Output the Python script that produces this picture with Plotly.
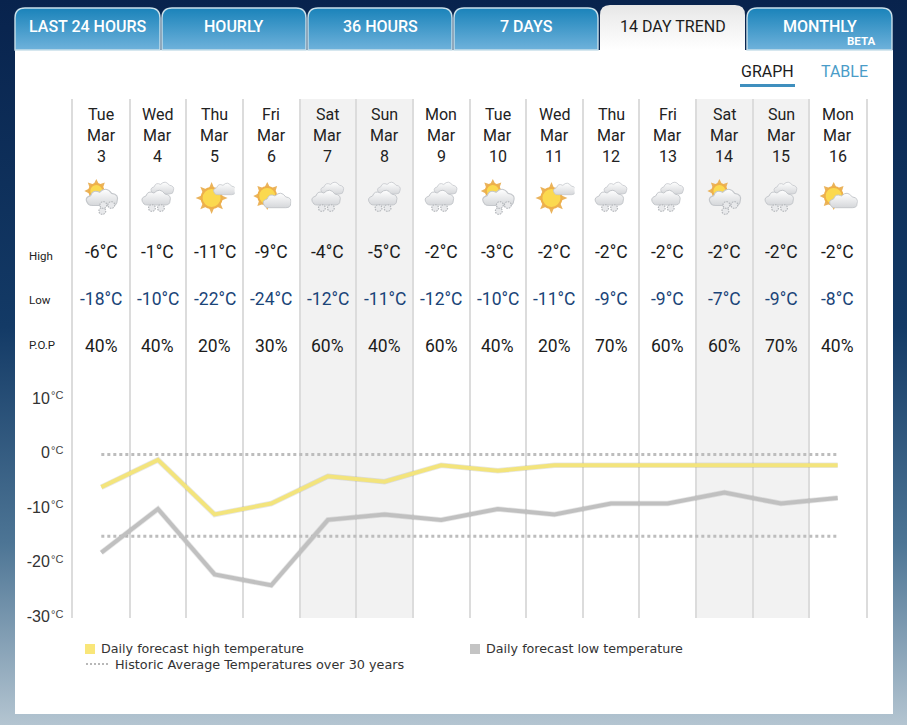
import base64
import plotly.graph_objects as go

W, H = 907, 725

days = ['Tue', 'Wed', 'Thu', 'Fri', 'Sat', 'Sun', 'Mon', 'Tue', 'Wed', 'Thu', 'Fri', 'Sat', 'Sun', 'Mon']
dates = [3, 4, 5, 6, 7, 8, 9, 10, 11, 12, 13, 14, 15, 16]
high = [-6, -1, -11, -9, -4, -5, -2, -3, -2, -2, -2, -2, -2, -2]
low = [-18, -10, -22, -24, -12, -11, -12, -10, -11, -9, -9, -7, -9, -8]
pop = [40, 40, 20, 30, 60, 40, 60, 40, 20, 70, 60, 60, 70, 40]
hist_high = [0] * 14
hist_low = [-15] * 14
icons = ['suncloudsnow', 'cloudsnow', 'suncloud', 'sunpart', 'cloudsnow', 'cloudsnow', 'cloudsnow',
         'suncloudsnow', 'suncloud', 'cloudsnow', 'cloudsnow', 'suncloudsnow', 'cloudsnow', 'sunpart']
tabs = ['LAST 24 HOURS', 'HOURLY', '36 HOURS', '7 DAYS', '14 DAY TREND', 'MONTHLY']
tab_edges = [(15, 160), (162, 306), (308, 452), (454, 598), (600, 745), (747, 892)]
ytick_vals = [10, 0, -10, -20, -30]
weekends = [(3.5, 5.5), (10.5, 12.5)]


def px(x):
    return x / W


def py(y):
    return 1 - y / H


def svg_uri(body, w, h):
    s = f'<svg xmlns="http://www.w3.org/2000/svg" width="{w}" height="{h}" viewBox="0 0 {w} {h}">{body}</svg>'
    return 'data:image/svg+xml;base64,' + base64.b64encode(s.encode()).decode()


# page background, white panel and the tabs
bg = '''<defs>
<linearGradient id="page" x1="0" y1="0" x2="0" y2="1">
<stop offset="0" stop-color="#08234d"/><stop offset="0.45" stop-color="#133a66"/>
<stop offset="0.75" stop-color="#4d7595"/><stop offset="1" stop-color="#b4c5d1"/></linearGradient>
<linearGradient id="tab" x1="0" y1="0" x2="0" y2="1">
<stop offset="0" stop-color="#1a83ba"/><stop offset="1" stop-color="#6fb2db"/></linearGradient>
<linearGradient id="act" x1="0" y1="0" x2="0" y2="1">
<stop offset="0" stop-color="#e6e6e6"/><stop offset="0.35" stop-color="#f0f0f0"/><stop offset="1" stop-color="#ffffff"/></linearGradient>
</defs>'''
bg += f'<rect width="{W}" height="{H}" fill="url(#page)"/>'
bg += '<rect x="15" y="50" width="878" height="664" fill="#ffffff"/>'
for i, (a, b) in enumerate(tab_edges):
    top = 5 if i == 4 else 8
    d = f'M{a} 50 V{top + 10} Q{a} {top} {a + 10} {top} H{b - 10} Q{b} {top} {b} {top + 10} V50 Z'
    if i == 4:
        bg += f'<path d="{d}" fill="url(#act)"/>'
    else:
        bg += f'<path d="{d}" fill="url(#tab)" stroke="#c9e0ea" stroke-width="1.4"/>'
images = [dict(source=svg_uri(bg, W, H), xref='paper', yref='paper', x=0, y=1, sizex=1, sizey=1,
               xanchor='left', yanchor='top', sizing='stretch', layer='below')]


def sun(cx, cy, r, ray):
    s = ''
    for a in range(0, 360, 45):
        s += (f'<path d="M{cx - 2.5} {cy - r} L{cx} {cy - r - ray} L{cx + 2.5} {cy - r} Z" '
              f'transform="rotate({a} {cx} {cy})" fill="#eab35c"/>')
    s += f'<circle cx="{cx}" cy="{cy}" r="{r}" fill="#fbd94f" stroke="#eeb04a" stroke-width="2"/>'
    return s


def cloud(x, y, s, fill='url(#cl)'):
    return (f'<g transform="translate({x} {y}) scale({s})" fill="{fill}" stroke="#c4c7cb" stroke-width="1">'
            '<path d="M2 14 Q-3 8 4 6 Q6 0 12 3 Q18 -3 23 4 Q30 5 28 11 Q28 15 23 15 H6 Q3 15 2 14 Z"/></g>')


def flakes(points):
    s = ''
    for (x, y) in points:
        s += (f'<circle cx="{x}" cy="{y}" r="3.4" fill="#e8e9eb" stroke="#b4b7bb" stroke-width="1.2" '
              f'stroke-dasharray="1.6 1"/>')
    return s


cloud_defs = ('<defs><linearGradient id="cl" x1="0" y1="0" x2="0" y2="1"><stop offset="0" stop-color="#ffffff"/>'
              '<stop offset="1" stop-color="#d5d7da"/></linearGradient></defs>')
icon_svgs = {
    'suncloudsnow': cloud_defs + sun(15, 14, 7, 5) + cloud(5, 12, 1.1) + flakes([(21, 34), (30, 28), (22, 28)]),
    'cloudsnow': cloud_defs + cloud(13, 5, 0.8) + cloud(4, 13, 1.0) + flakes([(14, 31), (23, 31)]),
    'suncloud': cloud_defs + sun(17, 21, 10, 6) + cloud(19, 6, 0.78),
    'sunpart': cloud_defs + sun(16, 19, 9, 5) + cloud(12, 16, 0.98),
}

for i, name in enumerate(icons):
    images.append(dict(source=svg_uri(icon_svgs[name], 40, 40), xref='x', yref='paper', x=i, y=py(197),
                       sizex=40 / 56.64, sizey=40 / H, xanchor='center', yanchor='middle',
                       sizing='contain', layer='above'))

annotations = []


def label(x, y, text, size, color='#222222', family='Roboto', anchor='center', xref='paper', weight=None):
    annotations.append(dict(x=x, y=py(y), xref=xref, yref='paper', text=text, showarrow=False,
                            xanchor=anchor, yanchor='middle',
                            font=dict(size=size, color=color, family=family, weight=weight)))


# tab labels
for i, (name, (a, b)) in enumerate(zip(tabs, tab_edges)):
    label(px((a + b) / 2), 27, name, 16, '#1c1c1c' if i == 4 else '#ffffff', weight=400 if i == 4 else 500)
label(px(877), 41, 'BETA', 11.5, '#ffffff', anchor='right', weight=700)

label(px(767), 71, 'GRAPH', 16, '#1c1c1c')
label(px(844), 71, 'TABLE', 16, '#4a9cc8')

# day columns
for i in range(14):
    label(i, 114, days[i], 16, xref='x')
    label(i, 136, 'Mar', 16, xref='x')
    label(i, 156, str(dates[i]), 16, xref='x')
    label(i, 252, f'{high[i]}°C', 17.5, '#1c1c1c', xref='x')
    label(i, 299, f'{low[i]}°C', 17.5, '#1a4478', xref='x')
    label(i, 346, f'{pop[i]}%', 17.5, '#1c1c1c', xref='x')

label(px(27), 256, 'High', 11.5, anchor='left')
label(px(27), 300, 'Low', 11.5, anchor='left')
label(px(27), 345, 'P.O.P', 11.5, anchor='left')

# small degree marks next to the y tick numbers
for v in ytick_vals:
    annotations.append(dict(x=px(49), y=v, xref='paper', yref='y', yshift=4.5, text='°C', showarrow=False,
                            xanchor='left', yanchor='middle',
                            font=dict(size=11, color='#444444', family='Liberation Sans')))

# legend
legend_font = 'DejaVu Sans'
label(px(99), 648, 'Daily forecast high temperature', 12.7, '#333333', legend_font, 'left')
label(px(484), 648, 'Daily forecast low temperature', 12.7, '#333333', legend_font, 'left')
label(px(113), 664, 'Historic Average Temperatures over 30 years', 12.8, '#333333', legend_font, 'left')

shapes = []
for a, b in weekends:
    shapes.append(dict(type='rect', xref='x', yref='paper', x0=a, x1=b, y0=py(618), y1=py(99),
                       fillcolor='#f2f2f2', line_width=0, layer='below'))
shapes.append(dict(type='rect', xref='paper', yref='paper', x0=px(740), x1=px(795), y0=py(87), y1=py(84),
                   fillcolor='#3f8fbe', line_width=0))
shapes.append(dict(type='rect', xref='paper', yref='paper', x0=px(85), x1=px(95), y0=py(654), y1=py(644),
                   fillcolor='#f9e679', line_width=0))
shapes.append(dict(type='rect', xref='paper', yref='paper', x0=px(470), x1=px(480), y0=py(654), y1=py(644),
                   fillcolor='#c4c4c4', line_width=0))
shapes.append(dict(type='line', xref='paper', yref='paper', x0=px(86), x1=px(108), y0=py(664), y1=py(664),
                   line=dict(color='#b8b8b8', width=2, dash='2px,2px')))

fig = go.Figure()
x = list(range(14))
for vals in (hist_high, hist_low):
    fig.add_trace(go.Scatter(x=x, y=vals, mode='lines', line=dict(color='#bdbdbd', width=3, dash='3px,3px'),
                             hoverinfo='skip'))
fig.add_trace(go.Scatter(x=x, y=high, mode='lines', line=dict(color='rgba(120,120,100,0.18)', width=5.5),
                         hoverinfo='skip'))
fig.add_trace(go.Scatter(x=x, y=high, mode='lines', line=dict(color='#f3e47c', width=4), hoverinfo='skip'))
fig.add_trace(go.Scatter(x=x, y=low, mode='lines', line=dict(color='rgba(90,90,90,0.15)', width=5.5),
                         hoverinfo='skip'))
fig.add_trace(go.Scatter(x=x, y=low, mode='lines', line=dict(color='#c0c0c0', width=4), hoverinfo='skip'))

fig.update_layout(
    width=W,
    height=H,
    margin=dict(l=0, r=0, t=0, b=0),
    autosize=False,
    showlegend=False,
    paper_bgcolor='rgba(0,0,0,0)',
    plot_bgcolor='rgba(0,0,0,0)',
    images=images,
    shapes=shapes,
    annotations=annotations,
    xaxis=dict(domain=[px(73), px(866)], range=[-0.5, 13.5], tickvals=[i - 0.5 for i in range(15)],
               showticklabels=False, showgrid=True, gridcolor='#dcdcdc', gridwidth=2, zeroline=False,
               ticks='', automargin=False),
    yaxis=dict(domain=[py(618), py(99)], range=[-30, 65.2], tickvals=ytick_vals,
               ticktext=[str(v) for v in ytick_vals],
               tickfont=dict(size=16, color='#333333', family='Liberation Sans'),
               showgrid=False, zeroline=False, ticks='', ticklabelstandoff=18, ticklabelshift=-2,
               showline=True, mirror=True, linecolor='#dcdcdc', linewidth=2, automargin=False),
)

fig.write_html("out.html", config=dict(displayModeBar=False, responsive=False),
               post_script="document.body.style.margin='0';document.body.style.overflow='hidden';")
